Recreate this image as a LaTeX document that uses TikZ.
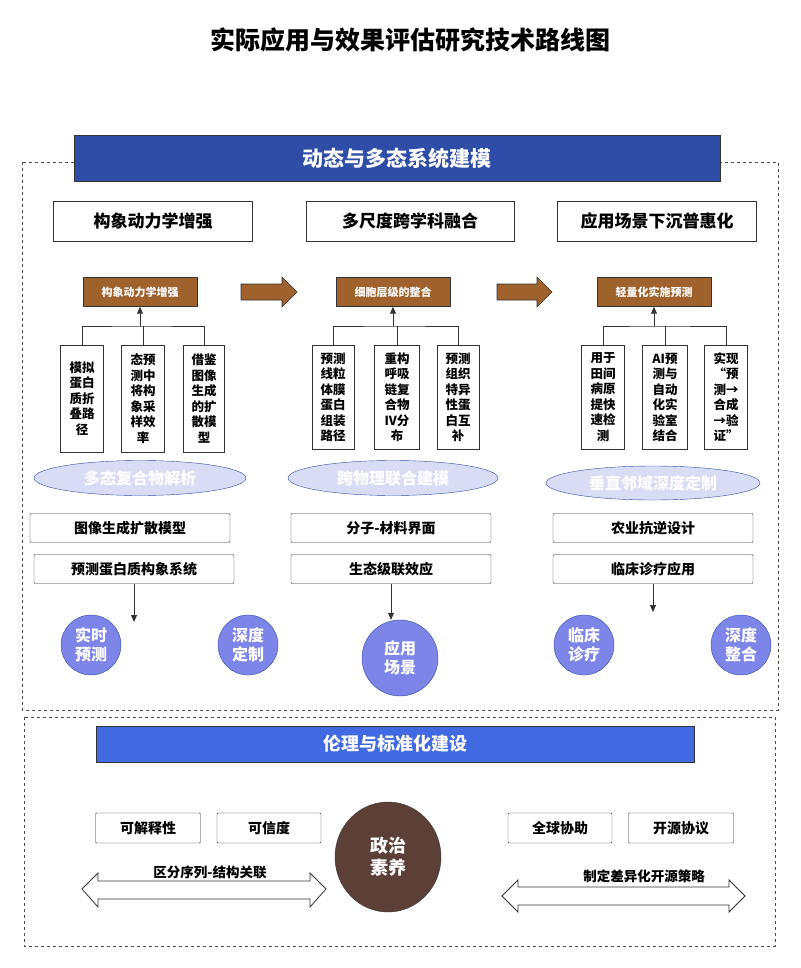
\documentclass[tikz,border=0pt]{standalone}
\usepackage{fontspec}
\setmainfont{Noto Sans CJK SC}
\usetikzlibrary{arrows.meta,shapes.geometric}
\definecolor{navy}{HTML}{2E4DA7}
\definecolor{royal}{HTML}{4169E1}
\definecolor{bronze}{HTML}{A0622D}
\definecolor{lav}{HTML}{D9DCF5}
\definecolor{violet}{HTML}{7D85E8}
\definecolor{cocoa}{HTML}{5C4037}
\tikzset{
  box/.style={draw=black!80,fill=white,rounded corners=1pt,minimum height=29pt,font=\fontsize{14}{16}\selectfont\bfseries},
  head/.style={draw=black!80,fill=white,minimum width=199pt,minimum height=40pt,font=\fontsize{17}{20}\selectfont\bfseries},
  tag/.style={draw=black!80,fill=bronze,text=white,minimum width=114pt,minimum height=29pt,font=\fontsize{11}{13}\selectfont\bfseries},
  tall/.style={draw=black!80,fill=white,minimum width=43pt,minimum height=107pt,align=center,anchor=north,inner sep=1pt,font=\fontsize{12.5}{15.5}\selectfont\bfseries},
  oval/.style={ellipse,draw=navy,fill=lav,minimum width=212pt,minimum height=35pt,font=\fontsize{16}{18}\selectfont\bfseries,text=white},
  dot/.style={circle,draw=navy,fill=violet,text=white,minimum size=60pt,inner sep=1pt,align=center,font=\fontsize{16}{19}\selectfont\bfseries},
  frame/.style={draw=black!70,dashed,line width=0.8pt},
  link/.style={draw=black!80,line width=0.8pt},
  fat/.style={draw=black!80,fill=bronze,line width=0.6pt},
  twin/.style={draw=black!80,fill=white,line width=0.8pt}
}
\begin{document}
\begin{tikzpicture}[x=1pt,y=-1pt]
\useasboundingbox (0,0) rectangle (800,968);
\node[font=\fontsize{25}{30}\selectfont\bfseries] (title) at (410,40) {实际应用与效果评估研究技术路线图};
% upper frame
\draw[frame] (22,162) rectangle (778,710);
\node[draw=black!80,fill=navy,text=white,minimum width=646pt,minimum height=46pt,font=\fontsize{21}{25}\selectfont\bfseries] (main) at (397,158) {动态与多态系统建模};
\node[head] (h1) at (153,221) {构象动力学增强};
\node[head,minimum width=208pt] (h2) at (410,221) {多尺度跨学科融合};
\node[head] (h3) at (657,221) {应用场景下沉普惠化};
\node[tag] (t1) at (140,292) {构象动力学增强};
\node[tag] (t2) at (393,292) {细胞层级的整合};
\node[tag] (t3) at (654,292) {轻量化实施预测};
\draw[fat] (241,284) -- (282,284) -- (282,277) -- (297,292) -- (282,307) -- (282,300) -- (241,300) -- cycle;
\draw[fat] (497,284) -- (537,284) -- (537,277) -- (552,292) -- (537,307) -- (537,300) -- (497,300) -- cycle;
% vertical boxes
\node[tall] (a1) at (82,345) {模拟\\蛋白\\质折\\叠路\\径};
\node[tall] (a2) at (143,345) {态预\\测中\\将构\\象采\\样效\\率};
\node[tall,minimum width=41pt] (a3) at (204,345) {借鉴\\图像\\生成\\的扩\\散模\\型};
\node[tall,minimum height=104pt,minimum width=42pt] (b1) at (333,345) {预测\\线粒\\体膜\\蛋白\\组装\\路径};
\node[tall,minimum height=104pt,minimum width=45pt] (b2) at (397,345) {重构\\呼吸\\链复\\合物\\IV分\\布};
\node[tall,minimum height=104pt,minimum width=42pt] (b3) at (458,345) {预测\\组织\\特异\\性蛋\\白互\\补};
\node[tall,minimum height=104pt] (c1) at (603,345) {用于\\田间\\病原\\提快\\速检\\测};
\node[tall,minimum height=104pt,minimum width=45pt] (c2) at (665,345) {AI预\\测与\\自动\\化实\\验室\\结合};
\node[tall,minimum height=104pt] (c3) at (726,345) {实现\\“预\\测→\\合成\\→验\\证”};
\foreach \g/\t in {a/t1,b/t2,c/t3}{
  \draw[link] (\g1.north) |- (\t.south |- 0,326) -| (\g3.north);
  \draw[link] (\g2.north) -- (\g2.north |- 0,326);
  \draw[link,-{Triangle[length=7pt,width=6pt]}] (\t.south |- 0,326) -- (\t.south);
}
% ovals and boxes
\node[oval] (o1) at (140,478) {多态复合物解析};
\node[oval,minimum width=210pt] (o2) at (393,478) {跨物理联合建模};
\node[oval,minimum width=214pt,minimum height=34pt] (o3) at (653,483) {垂直邻域深度定制};
\node[box,minimum width=200pt] (d1) at (130,528) {图像生成扩散模型};
\node[box,minimum width=200pt] (d2) at (134,569) {预测蛋白质构象系统};
\node[box,minimum width=200pt] (e1) at (391,528) {分子-材料界面};
\node[box,minimum width=200pt] (e2) at (391,569) {生态级联效应};
\node[box,minimum width=200pt] (f1) at (653,528) {农业抗逆设计};
\node[box,minimum width=200pt] (f2) at (653,569) {临床诊疗应用};
\coordinate (p1) at (134,622);
\coordinate (p3) at (653,612);
\node[dot] (r1) at (91,645) {实时\\预测};
\node[dot] (r2) at (248,645) {深度\\定制};
\node[dot,minimum size=76pt] (r3) at (400,658) {应用\\场景};
\node[dot] (r4) at (584,645) {临床\\诊疗};
\node[dot] (r5) at (741,645) {深度\\整合};
\draw[link,-{Triangle[length=7pt,width=6pt]}] (d2.south -| p1) -- (p1);
\draw[link,-{Triangle[length=7pt,width=6pt]}] (e2.south) -- (e2.south |- r3.north);
\draw[link,-{Triangle[length=7pt,width=6pt]}] (f2.south) -- (p3);
% lower frame
\draw[frame] (24,717) rectangle (775,946);
\node[draw=black!80,fill=royal,text=white,minimum width=598pt,minimum height=36pt,font=\fontsize{18}{22}\selectfont\bfseries] (ethic) at (395,744) {伦理与标准化建设};
\node[box,minimum width=105pt,minimum height=30pt] (g1) at (148,828) {可解释性};
\node[box,minimum width=104pt,minimum height=30pt] (g2) at (269,828) {可信度};
\node[box,minimum width=104pt,minimum height=30pt] (g3) at (560,828) {全球协助};
\node[box,minimum width=105pt,minimum height=30pt] (g4) at (681,828) {开源协议};
\node[ellipse,draw=black!80,fill=cocoa,text=white,minimum width=106pt,minimum height=110pt,align=center,font=\fontsize{18}{22}\selectfont\bfseries] (core) at (388,857) {政治\\素养};
\draw[twin] (82,889) -- (98,873) -- (98,881) -- (310,881) -- (310,873) -- (326,889) -- (310,907) -- (310,899) -- (98,899) -- (98,907) -- cycle;
\draw[twin] (502,896) -- (518,880) -- (518,887) -- (729,887) -- (729,880) -- (745,896) -- (729,912) -- (729,905) -- (518,905) -- (518,912) -- cycle;
\node[font=\fontsize{13.5}{15}\selectfont\bfseries] (l1) at (210,872) {区分序列-结构关联};
\node[font=\fontsize{13.5}{15}\selectfont\bfseries] (l2) at (644,876) {制定差异化开源策略};
\end{tikzpicture}
\end{document}
